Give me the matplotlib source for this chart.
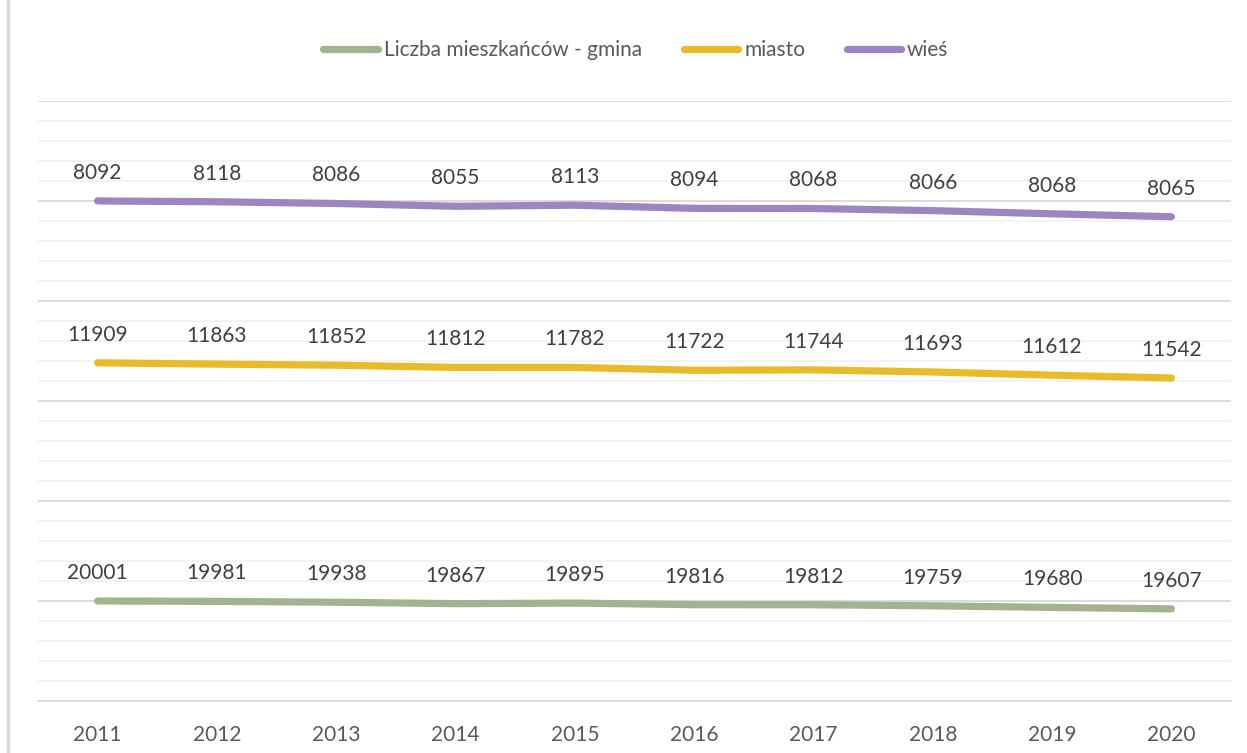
import numpy as np
import matplotlib.pyplot as plt
from matplotlib.ticker import MultipleLocator

years = ['2011', '2012', '2013', '2014', '2015', '2016', '2017', '2018', '2019', '2020']
gmina = [20001, 19981, 19938, 19867, 19895, 19816, 19812, 19759, 19680, 19607]
miasto = [11909, 11863, 11852, 11812, 11782, 11722, 11744, 11693, 11612, 11542]
wies = [8092, 8118, 8086, 8055, 8113, 8094, 8068, 8066, 8068, 8065]

names = ['Liczba mieszkańców - gmina', 'miasto', 'wieś']
colors = ['#a3b38f', '#e8bb2a', '#9d85c1']

plt.rcParams['font.family'] = ['Lato', 'DejaVu Sans']

fig = plt.figure(figsize=(12.47, 7.53), dpi=100)
ax = fig.add_axes([38 / 1247, 1 - 701 / 753, 1193 / 1247, 600 / 753])

x = np.arange(len(years))
# stacked line chart (Excel style)
stacked = np.cumsum([gmina, miasto, wies], axis=0)
series = [gmina, miasto, wies]

for i in range(3):
    ax.plot(x, stacked[i], color=colors[i], lw=5.2, solid_capstyle='round',
            label=names[i], zorder=3)
    for xi, yi, v in zip(x, stacked[i], series[i]):
        ax.annotate(str(v), (xi, yi), xytext=(0, 13), textcoords='offset points',
                    ha='center', va='bottom', fontsize=15, color='#404040')

ax.set_xlim(-0.5, len(years) - 0.5)
ax.set_ylim(15000, 45000)
ax.yaxis.set_major_locator(MultipleLocator(5000))
ax.yaxis.set_minor_locator(MultipleLocator(1000))
ax.grid(which='major', axis='y', color='#d9d9d9', lw=1.3)
ax.grid(which='minor', axis='y', color='#f2f2f2', lw=1.3)
ax.set_axisbelow(True)
ax.set_yticklabels([])
ax.tick_params(axis='y', which='both', length=0)
ax.set_xticks(x)
ax.set_xticklabels(years, fontsize=15, color='#595959')
ax.tick_params(axis='x', length=0, pad=17)
for s in ['top', 'right', 'left']:
    ax.spines[s].set_visible(False)
ax.spines['bottom'].set_color('#d9d9d9')
ax.spines['bottom'].set_linewidth(1.3)

fig.legend(loc='center', bbox_to_anchor=(0.51, 1 - 50 / 753), ncol=3, frameon=False,
           fontsize=15, handlelength=2.6, handletextpad=0.3, columnspacing=2.0,
           labelcolor='#595959')

# chart area border on the left
fig.add_artist(plt.Line2D([8 / 1247, 8 / 1247], [0, 1], color='#d9d9d9', lw=2.5,
                          transform=fig.transFigure))

fig.savefig('out.png', dpi=100)
